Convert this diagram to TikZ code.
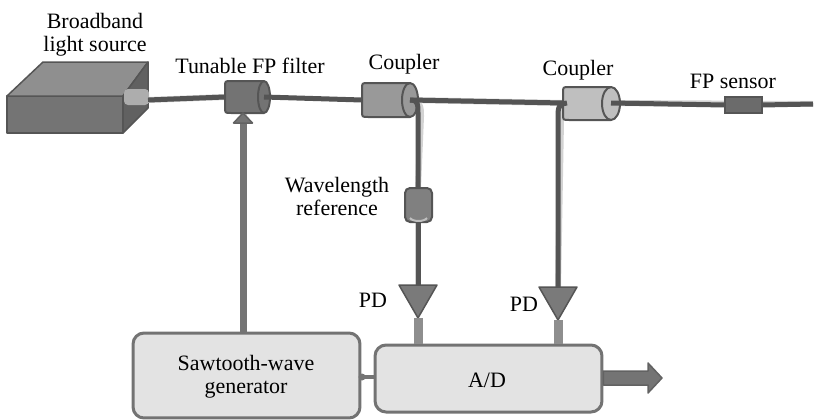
\documentclass[tikz,border=0pt]{standalone}
\usepackage{fontspec}
\setmainfont{Liberation Serif}
\definecolor{fib}{HTML}{545454}
\definecolor{shd}{HTML}{D2D2D2}
\definecolor{edge}{HTML}{555555}
\definecolor{boxfill}{HTML}{E3E3E3}
\definecolor{boxedge}{HTML}{737373}
\definecolor{stubgray}{HTML}{8E8E8E}
% horizontal fibre component: #1 left x, #2 right x, #3 centre y, #4 half height, #5 cap radius, #6 fill
\newcommand\hcylinder[6]{%
  \filldraw[fill=#6, draw=edge, line width=0.04cm]
    (#2-#5,#3-#4) arc[start angle=-90, end angle=90, x radius=#5, y radius=#4]
    -- (#1+6,#3+#4) .. controls (#1,#3+#4) .. (#1,#3+#4-6)
    -- (#1,#3-#4+6) .. controls (#1,#3-#4) .. (#1+6,#3-#4) -- cycle;
  \draw[edge, line width=0.04cm]
    (#2-#5,#3-#4) arc[start angle=-90, end angle=-270, x radius=#5, y radius=#4];
}
\begin{document}
\begin{tikzpicture}[x=0.02cm, y=-0.02cm,
  lbl/.style={font=\fontsize{12.5}{13}\selectfont, inner sep=0pt, anchor=base, align=center},
  fiber/.style={line width=0.1cm, draw=fib},
  fshadow/.style={line width=0.12cm, draw=shd, xshift=0.06cm, yshift=-0.05cm},
  stub/.style={line width=0.18cm, draw=stubgray},
  block/.style={draw=boxedge, fill=boxfill, line width=0.06cm, rounded corners=0.22cm,
    font=\fontsize{12.5}{13}\selectfont, align=center, inner sep=0pt},
  detector/.style={fill=HTML7A, draw=edge, line width=0.03cm, line join=round},
  bigarrow/.style={fill=HTML70, draw=HTML62, line width=0.03cm, line join=round}]
\definecolor{HTML7A}{HTML}{7A7A7A}
\definecolor{HTML70}{HTML}{747474}
\definecolor{HTML62}{HTML}{626262}
\useasboundingbox (0,0) rectangle (817,419);

% ---- connection points ----
\coordinate (srcout) at (148,100);
\coordinate (filtL) at (225,97);
\coordinate (filtR) at (264,97);
\coordinate (filtB) at (243,113);
\coordinate (cpAL) at (362,100);
\coordinate (cpAR) at (410,100);
\coordinate (cpBL) at (563,103);
\coordinate (cpBR) at (611,103);
\coordinate (cpBtap) at (567,103);
\coordinate (senL) at (725,105);
\coordinate (senR) at (762,105);
\coordinate (fend) at (813,104);
\coordinate (refT) at (418,188);
\coordinate (refB) at (418,222);
\coordinate (pdAT) at (418,285);
\coordinate (pdAB) at (418,318);
\coordinate (pdBT) at (558,287);
\coordinate (pdBB) at (558,320);

% ---- blocks ----
\node[block, minimum width=4.54cm, minimum height=1.7cm] (saw) at (246.5,375.5) {};
\node[block, minimum width=4.54cm, minimum height=1.34cm] (ad) at (488.5,378.5) {};
\node[lbl] (sawtxt) at (246,393) {Sawtooth-wave\\generator};
\node[lbl] (adtxt) at (487,387) {A/D};

% ---- broadband source (box) ----
\filldraw[fill=HTML70, draw=edge, line width=0.03cm, line join=round]
  (7,96) -- (123,96) -- (123,133) -- (7,133) -- cycle;
\filldraw[fill=black!44, draw=edge, line width=0.03cm, line join=round]
  (7,96) -- (43,62) -- (148,62) -- (123,96) -- cycle;
\filldraw[fill=black!62, draw=edge, line width=0.03cm, line join=round]
  (123,96) -- (148,62) -- (148,108) -- (123,133) -- cycle;
\fill[black!32, rounded corners=0.08cm] (124,89) rectangle (149,105);

% ---- fibre shadows ----
\draw[fshadow] (srcout) -- (filtL);
\draw[fshadow] (cpAR) -- (cpBL);
\draw[fshadow] (cpBR) -- (fend);
\draw[fshadow] (cpAR) .. controls (418,100) and (418,104) .. (418,114) -- (refT);
\draw[fshadow] (refB) -- (pdAT);
\draw[fshadow] (cpBtap) .. controls (558,104) and (558,108) .. (558,118) -- (pdBT);
\draw[line width=0.14cm, draw=shd, xshift=0.06cm] (saw.north -| filtB) -- (filtB);
\draw[line width=0.18cm, draw=shd!70, xshift=0.07cm] (pdAB) -- (pdAB |- ad.north);
\draw[line width=0.18cm, draw=shd!70, xshift=0.07cm] (pdBB) -- (pdBB |- ad.north);

% ---- components on the fibre ----
\hcylinder{225}{270}{97}{16}{6}{black!55}
\hcylinder{362}{418}{100}{17}{8}{black!40}
\hcylinder{563}{620}{103.5}{16.5}{9}{black!25}
\filldraw[fill=black!58, draw=edge, line width=0.04cm] (725,97) rectangle (762,113);
\filldraw[fill=black!50, draw=edge, line width=0.04cm, rounded corners=0.1cm] (405,188) rectangle (432,222);
\draw[black!25, line width=0.04cm] (410,218) .. controls (413,222) and (424,222) .. (427,218);

% ---- fibres ----
\draw[fiber] (srcout) -- (filtL);
\draw[fiber] (filtR) -- (cpAL);
\draw[fiber] (cpAR) -- (cpBL);
\draw[fiber] (cpBR) -- (senL);
\draw[fiber] (senR) -- (fend);
\draw[fiber] (cpAR) .. controls (418,100) and (418,104) .. (418,114) -- (refT);
\draw[fiber] (refB) -- (pdAT);
\draw[fiber] (cpBtap) .. controls (558,104) and (558,108) .. (558,118) -- (pdBT);

% ---- photodetectors ----
\filldraw[detector] (399,285) -- (437,285) -- (pdAB) -- cycle;
\filldraw[detector] (539,287) -- (577,287) -- (pdBB) -- cycle;
\draw[stub] (pdAB) -- (pdAB |- ad.north);
\draw[stub] (pdBB) -- (pdBB |- ad.north);

% ---- drive signal to the tunable filter ----
\draw[line width=0.14cm, draw=HTML70] (saw.north -| filtB) -- (243,122);
\filldraw[bigarrow] (233.5,123) -- (252.5,123) -- (filtB) -- cycle;

% ---- link between generator and A/D ----
\draw[line width=0.09cm, draw=HTML70] (saw.east |- 0,377) -- (ad.west |- 0,377);
\fill[HTML70] (362,377) circle[radius=3.5];

% ---- A/D output ----
\filldraw[bigarrow] (ad.east |- 0,371) -- (648,371) -- (648,363) -- (662,378)
  -- (648,393) -- (648,385) -- (ad.east |- 0,385) -- cycle;

% ---- labels ----
\node[lbl] (lsrc) at (95,51) {Broadband\\light source};
\node[lbl] (lfilt) at (250,73) {Tunable FP filter};
\node[lbl] (lcpA) at (404,69) {Coupler};
\node[lbl] (lcpB) at (578,75) {Coupler};
\node[lbl] (lsen) at (733,88) {FP sensor};
\node[lbl] (lref) at (337,215) {Wavelength\\reference};
\node[lbl] (lpdA) at (373,307) {PD};
\node[lbl] (lpdB) at (524,311) {PD};
\end{tikzpicture}
\end{document}
